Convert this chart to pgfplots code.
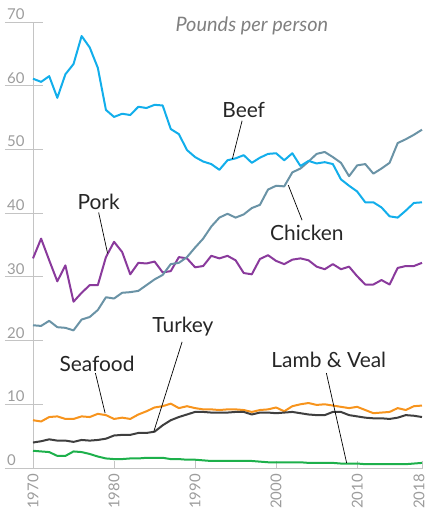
\documentclass[border=0pt]{standalone}
\usepackage{fontspec}
\setmainfont{Lato}
\usepackage{pgfplots}
\usepackage{pgfplotstable}
\pgfplotsset{compat=1.18}
\definecolor{beefc}{HTML}{12AEEB}
\definecolor{chickc}{HTML}{6A93A6}
\definecolor{porkc}{HTML}{8A3A9C}
\definecolor{seac}{HTML}{F7941D}
\definecolor{turkc}{HTML}{3F3F3F}
\definecolor{lambc}{HTML}{1DB04B}
\definecolor{gridc}{HTML}{C4C4C4}
\definecolor{tickc}{HTML}{9C9C9C}

\pgfplotstableread{
year beef chicken pork seafood turkey lamb
1970 61.1 22.4 32.9 7.5 4.0 2.7
1971 60.6 22.3 36.0 7.3 4.2 2.6
1972 61.5 23.1 32.6 8.0 4.5 2.5
1973 58.1 22.1 29.3 8.1 4.3 1.9
1974 61.8 22.0 31.8 7.7 4.3 1.9
1975 63.4 21.6 26.1 7.7 4.1 2.6
1976 67.8 23.3 27.5 8.1 4.4 2.5
1977 66.0 23.7 28.7 8.0 4.3 2.2
1978 62.8 24.8 28.7 8.5 4.4 1.8
1979 56.2 26.8 33.1 8.3 4.6 1.5
1980 55.1 26.6 35.5 7.7 5.1 1.4
1981 55.6 27.5 33.9 7.9 5.2 1.4
1982 55.4 27.6 30.4 7.7 5.2 1.5
1983 56.7 27.8 32.2 8.4 5.5 1.5
1984 56.5 28.7 32.1 8.9 5.5 1.6
1985 57.0 29.6 32.4 9.5 5.7 1.6
1986 56.9 30.3 30.7 9.7 6.7 1.6
1987 53.2 32.0 30.9 10.1 7.5 1.4
1988 52.4 32.2 33.1 9.4 8.0 1.4
1989 49.9 33.1 32.9 9.7 8.4 1.3
1990 48.8 34.6 31.5 9.4 8.8 1.3
1991 48.1 36.0 31.7 9.2 8.8 1.2
1992 47.7 37.9 33.3 9.2 8.7 1.1
1993 46.8 39.3 32.9 9.1 8.7 1.1
1994 48.3 39.9 33.3 9.2 8.7 1.1
1995 48.6 39.3 32.6 9.2 8.8 1.1
1996 49.1 39.8 30.6 9.1 8.8 1.1
1997 47.9 40.8 30.4 8.8 8.4 1.1
1998 48.7 41.3 32.8 9.1 8.7 1.0
1999 49.3 43.7 33.4 9.2 8.7 0.9
2000 49.4 44.3 32.5 9.5 8.6 0.9
2001 48.3 44.2 32.0 8.9 8.7 0.9
2002 49.4 46.4 32.7 9.7 8.8 0.9
2003 47.4 47.0 32.9 10.0 8.6 0.9
2004 48.2 48.1 32.6 10.2 8.4 0.8
2005 47.8 49.3 31.6 9.9 8.3 0.8
2006 48.0 49.6 31.2 10.0 8.3 0.8
2007 47.7 48.8 32.0 9.8 8.8 0.8
2008 45.3 47.9 31.2 9.6 8.8 0.7
2009 44.3 45.8 31.6 9.4 8.3 0.7
2010 43.4 47.5 30.1 9.6 8.1 0.7
2011 41.7 47.7 28.8 9.1 7.9 0.6
2012 41.7 46.2 28.8 8.6 7.8 0.6
2013 40.9 47.0 29.5 8.7 7.8 0.6
2014 39.5 47.9 28.8 8.8 7.7 0.6
2015 39.3 51.0 31.4 9.4 7.9 0.6
2016 40.4 51.6 31.7 9.1 8.3 0.6
2017 41.6 52.3 31.7 9.7 8.2 0.7
2018 41.7 53.1 32.2 9.8 8.0 0.8
}\meat

\begin{document}
\begin{tikzpicture}
\path[use as bounding box] (-33bp,-45bp) rectangle (394bp,468bp);
\begin{axis}[
    at={(0,0)}, anchor=south west,
    scale only axis,
    width=389bp, height=446bp,
    xmin=1970, xmax=2018, ymin=0, ymax=70,
    axis lines=left,
    axis line style={draw=none},
    clip=false,
    xtick={1970,1980,1990,2000,2010},
    extra x ticks={2018},
    extra x tick style={xticklabel style={yshift=3bp}},
    ytick={0,10,...,70},
    tick align=inside,
    major tick length=7bp,
    xtick style={gridc, line width=0.8bp},
    ytick style={draw=none},
    /pgf/number format/assume math mode=true,
    /pgf/number format/1000 sep={},
    xticklabel style={rotate=90, anchor=east, font=\fontsize{15}{15}\selectfont, text=tickc, inner xsep=6bp, inner ysep=0pt},
    yticklabel style={anchor=base west, xshift=-26bp, yshift=2.5bp, font=\fontsize{15}{15}\selectfont, text=tickc, inner sep=0pt},
    every axis plot/.append style={line width=2bp, line join=round},
]
\pgfplotsinvokeforeach{10,20,...,70}{
  \draw[gridc, line width=0.8bp] ([xshift=-28bp]axis cs:1970,#1) -- ([xshift=10bp]axis cs:1970,#1);
}
\draw[gridc, line width=0.8bp] (axis cs:1970,0) -- (axis cs:1970,70);
\draw[gridc, line width=0.8bp] ([xshift=-28bp]axis cs:1970,0) -- ([xshift=1bp]axis cs:2018,0);

\addplot[lambc] table[x=year, y=lamb] {\meat};
\addplot[seac] table[x=year, y=seafood] {\meat};
\addplot[turkc] table[x=year, y=turkey] {\meat};
\addplot[porkc] table[x=year, y=pork] {\meat};
\addplot[chickc] table[x=year, y=chicken] {\meat};
\addplot[beefc] table[x=year, y=beef] {\meat};

\node[font=\itshape\fontsize{20}{20}\selectfont, text=gray] at (axis cs:1997.0,69.4) {Pounds per person};

\begin{scope}[every node/.style={font=\fontsize{21}{21}\selectfont, text=black!85}]
\node at (axis cs:1996.0,56.2) {Beef};
\draw[black, line width=0.7bp] (axis cs:1995.8,54.5) -- (axis cs:1994.6,48.5);
\node at (axis cs:1978.1,41.7) {Pork};
\draw[black, line width=0.7bp] (axis cs:1978.1,40.1) -- (axis cs:1979.2,33.7);
\node at (axis cs:2003.8,36.9) {Chicken};
\draw[black, line width=0.7bp] (axis cs:2001.5,44.4) -- (axis cs:2003.2,38.9);
\node at (axis cs:1988.5,22.2) {Turkey};
\draw[black, line width=0.7bp] (axis cs:1988.4,19.8) -- (axis cs:1984.9,5.7);
\node at (axis cs:1977.9,16.4) {Seafood};
\draw[black, line width=0.7bp] (axis cs:1977.7,14.9) -- (axis cs:1978.9,8.6);
\node at (axis cs:2006.5,17.0) {Lamb \& Veal};
\draw[black, line width=0.7bp] (axis cs:2006.2,14.9) -- (axis cs:2008.7,0.8);
\end{scope}
\end{axis}
\end{tikzpicture}
\end{document}
